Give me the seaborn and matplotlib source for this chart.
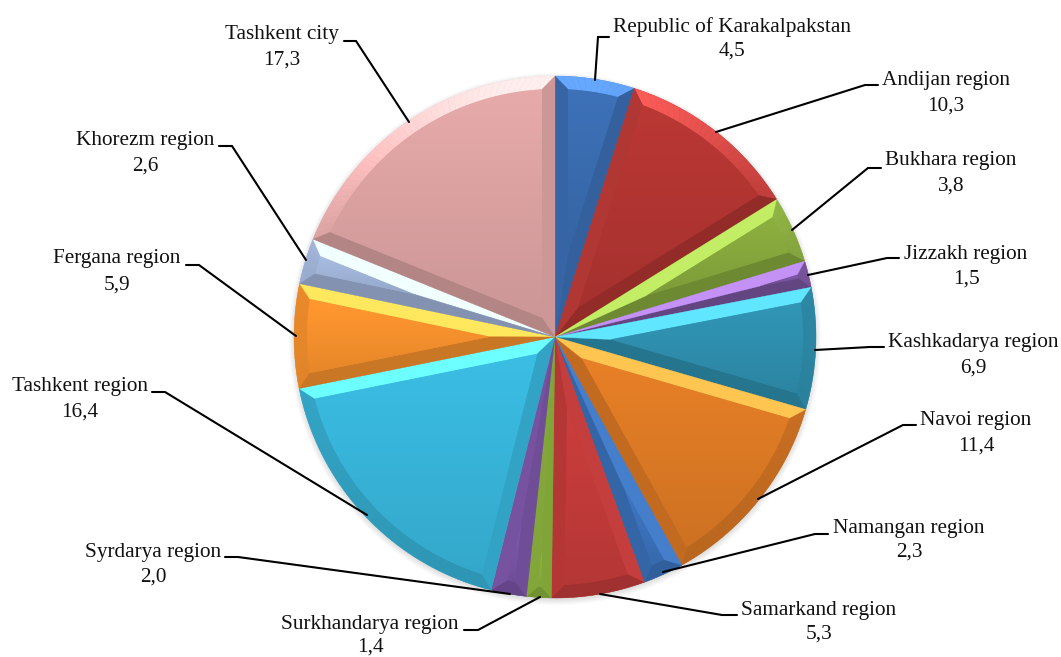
import numpy as np
import matplotlib
matplotlib.use("Agg")
import matplotlib.pyplot as plt
from matplotlib.colors import to_rgb
from matplotlib.patches import Polygon, Circle
import seaborn as sns

regions = ["Republic of Karakalpakstan", "Andijan region", "Bukhara region", "Jizzakh region",
           "Kashkadarya region", "Navoi region", "Namangan region", "Samarkand region",
           "Surkhandarya region", "Syrdarya region", "Tashkent region", "Fergana region",
           "Khorezm region", "Tashkent city"]
shares = [4.5, 10.3, 3.8, 1.5, 6.9, 11.4, 2.3, 5.3, 1.4, 2.0, 16.4, 5.9, 2.6, 17.3]
share_labels = ["4,5", "10,3", "3,8", "1,5", "6,9", "11,4", "2,3", "5,3", "1,4", "2,0", "16,4", "5,9", "2,6", "17,3"]
slice_colors = ["#3a6cb0", "#b23532", "#86a83d", "#7a559f", "#2f8fae", "#dd7a25", "#3b72bb",
                "#c23b3a", "#8ab13c", "#7a54a5", "#38b5da", "#f7912d", "#a0b4d8", "#dca2a2"]

# layout, in reference pixels
W, H = 1061, 657
CX, CY, R = 555, 337, 261
BEVEL = 13
label_xy = [(732, 27, 51), (946, 81, 106), (951, 161, 186), (966, 254, 279), (973, 343, 368),
            (976, 421, 446), (909, 528, 552), (819, 610, 634), (370, 625, 647), (153, 553, 577),
            (80, 387, 412), (117, 259, 285), (145, 140, 166), (282, 35, 60)]
leaders = [[(595, 80), (598, 37), (609, 37)], [(716, 132), (865, 85), (878, 85)],
           [(792, 230), (868, 168), (881, 168)], [(808, 275), (887, 258), (899, 258)],
           [(815, 350), (870, 347), (884, 347)], [(758, 499), (903, 425), (916, 425)],
           [(663, 572), (815, 534), (828, 534)], [(600, 594), (722, 615), (737, 615)],
           [(540, 597), (478, 630), (464, 630)], [(510, 594), (238, 557), (225, 557)],
           [(367, 515), (165, 392), (152, 392)], [(296, 336), (199, 265), (186, 265)],
           [(306, 260), (232, 146), (219, 146)], [(409, 122), (356, 41), (344, 41)]]

sns.set_theme(style="white")
plt.rcParams["font.family"] = ["Liberation Serif", "DejaVu Serif"]
palette = sns.color_palette(slice_colors)

fig = plt.figure(figsize=(W / 100, H / 100), dpi=100, facecolor="white")
ax = fig.add_axes([0, 0, 1, 1])

cy = H - CY
# soft shadow
for k in range(8):
    ax.add_patch(Circle((CX, cy - 2), R + 5 - k, fc="black", ec="none", alpha=0.018, zorder=0))

wedges, _ = ax.pie(shares, colors=palette, startangle=90, counterclock=False,
                   radius=R, center=(CX, cy), wedgeprops={"linewidth": 0})
for w in wedges:
    w.set_zorder(1)


def shade(color, s):
    rgb = np.array(to_rgb(color))
    if s > 0:
        out = rgb * (0.93 + 0.47 * s * s) + 0.13 * s * s
    else:
        out = rgb * (0.93 + 0.12 * s)
    return tuple(np.clip(out, 0, 1))


def pt(r, deg):
    t = np.radians(deg)
    return (CX + r * np.cos(t), cy + r * np.sin(t))


for w, c in zip(wedges, palette):
    t1, t2 = w.theta1, w.theta2
    half = np.radians((t2 - t1) / 2)
    sa = np.sin(half)
    b = min(BEVEL, 0.85 * R * sa / (1 + sa))
    ri = R - b
    d = np.degrees(np.arcsin(b / ri))
    i1, i2 = t1 + d, t2 - d
    apex = pt(b / sa, (t1 + t2) / 2)
    centre = (CX, cy)

    # outer arc strip
    n = max(int((t2 - t1) / 1.5), 2)
    ao = np.linspace(t1, t2, n + 1)
    ai = np.linspace(i1, i2, n + 1)
    for j in range(n):
        poly = [pt(R, ao[j]), pt(R, ao[j + 1]), pt(ri, ai[j + 1]), pt(ri, ai[j])]
        col = shade(c, np.sin(np.radians((ao[j] + ao[j + 1]) / 2)) * 0.9)
        ax.add_patch(Polygon(poly, fc=col, ec=col, lw=0.3, zorder=2))
    # side strips
    col = shade(c, -np.cos(np.radians(t1)))
    ax.add_patch(Polygon([centre, pt(R, t1), pt(ri, i1), apex], fc=col, ec=col, lw=0.2, zorder=3))
    col = shade(c, np.cos(np.radians(t2)))
    ax.add_patch(Polygon([centre, pt(R, t2), pt(ri, i2), apex], fc=col, ec=col, lw=0.2, zorder=3))
    # inner face with a vertical gradient
    arc = [pt(ri, a) for a in np.linspace(i1, i2, 60)]
    face = Polygon([apex] + arc, fc="none", ec="none", transform=ax.transData)
    ax.add_patch(face)
    ys = [p[1] for p in arc] + [apex[1]]
    xs = [p[0] for p in arc] + [apex[0]]
    grad = np.linspace(1.05, 0.93, 64)[:, None, None] * np.array(to_rgb(c))[None, None, :]
    im = ax.imshow(np.clip(grad, 0, 1), extent=(min(xs), max(xs), min(ys), max(ys)),
                   origin="upper", aspect="auto", zorder=3.5, interpolation="bilinear")
    im.set_clip_path(face)

for name, val, (lx, y1, y2), path in zip(regions, share_labels, label_xy, leaders):
    ax.plot([p[0] for p in path], [H - p[1] for p in path], color="black", lw=1.5,
            solid_joinstyle="miter", zorder=5)
    ax.text(lx, H - y1, name, ha="center", va="center", fontsize=15.3, color="#111111", zorder=6)
    ax.text(lx, H - y2, val, ha="center", va="center", fontsize=15.3, color="#111111", zorder=6)

ax.set_xlim(0, W)
ax.set_ylim(0, H)
ax.set_aspect("auto")
ax.axis("off")
fig.savefig("out.png", dpi=100, facecolor="white")
